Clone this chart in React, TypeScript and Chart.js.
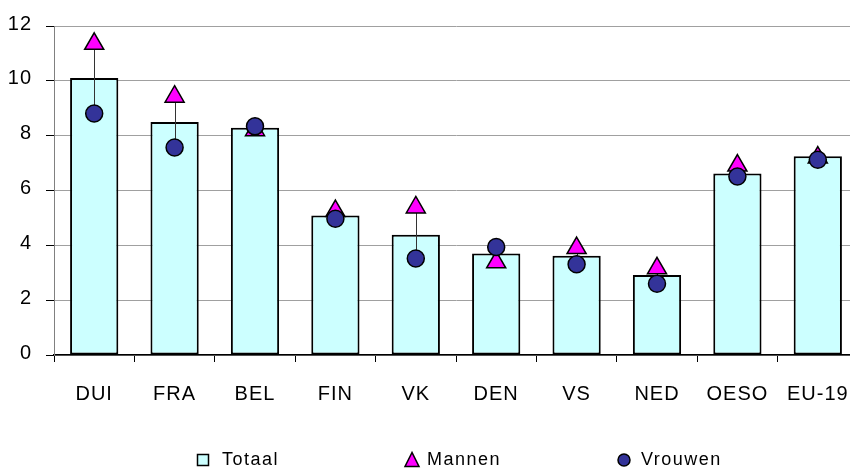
import React, { useEffect, useRef } from 'react';
import { Chart, registerables } from 'chart.js';

Chart.register(...registerables);

const categories = ['DUI', 'FRA', 'BEL', 'FIN', 'VK', 'DEN', 'VS', 'NED', 'OESO', 'EU-19'];
const totaal = [10.1, 8.5, 8.29, 5.09, 4.39, 3.7, 3.62, 2.92, 6.62, 7.25];
const mannen = [11.35, 9.42, 8.2, 5.25, 5.38, 3.38, 3.9, 3.16, 6.91, 7.2];
const vrouwen = [8.81, 7.57, 8.34, 4.97, 3.52, 3.94, 3.31, 2.6, 6.51, 7.12];
const yTicks = [0, 2, 4, 6, 8, 10, 12];
const seriesNames = ['Totaal', 'Mannen', 'Vrouwen'];

const FONT = '"Liberation Sans", Arial, sans-serif';
const BAR_FILL = '#CCFFFF';
const MAN_FILL = '#FF00FF';
const VROUW_FILL = '#333399';

const letterSpacingPlugin = {
  id: 'letterSpacing',
  beforeDraw(chart: any) {
    chart.ctx.letterSpacing = '1px';
  },
};

const hiLoPlugin = {
  id: 'hiLo',
  afterDatasetDraw(chart: any, args: any) {
    if (args.index !== 0) return;
    const { ctx, scales } = chart;
    const x = scales.x;
    const y = scales.y;
    ctx.save();
    ctx.strokeStyle = '#333333';
    ctx.lineWidth = 1;
    mannen.forEach((m, i) => {
      const px = Math.round(x.getPixelForValue(i)) + 0.5;
      ctx.beginPath();
      ctx.moveTo(px, y.getPixelForValue(m));
      ctx.lineTo(px, y.getPixelForValue(vrouwen[i]));
      ctx.stroke();
    });
    ctx.restore();
  },
};

const customLegendPlugin = {
  id: 'customLegend',
  afterDraw(chart: any) {
    const ctx = chart.ctx;
    ctx.save();
    ctx.letterSpacing = '1.5px';
    ctx.font = '18px ' + FONT;
    ctx.textBaseline = 'middle';
    ctx.textAlign = 'left';
    ctx.lineWidth = 1.5;
    ctx.strokeStyle = '#000';
    const cy = 460;
    // Totaal box
    ctx.fillStyle = BAR_FILL;
    ctx.fillRect(197.5, 454.5, 11, 11);
    ctx.strokeRect(197.5, 454.5, 11, 11);
    // Mannen triangle
    ctx.beginPath();
    ctx.moveTo(412, 452.5);
    ctx.lineTo(405, 466.5);
    ctx.lineTo(419, 466.5);
    ctx.closePath();
    ctx.fillStyle = MAN_FILL;
    ctx.fill();
    ctx.stroke();
    // Vrouwen circle
    ctx.beginPath();
    ctx.arc(624, cy, 6, 0, Math.PI * 2);
    ctx.fillStyle = VROUW_FILL;
    ctx.fill();
    ctx.stroke();
    ctx.fillStyle = '#000';
    ctx.fillText(seriesNames[0], 222, cy);
    ctx.fillText(seriesNames[1], 427, cy);
    ctx.fillText(seriesNames[2], 641, cy);
    ctx.restore();
  },
};

export default function App() {
  const canvasRef = useRef<HTMLCanvasElement | null>(null);

  useEffect(() => {
    if (!canvasRef.current) return;
    const chart = new Chart(canvasRef.current, {
      type: 'bar',
      data: {
        labels: categories,
        datasets: [
          {
            type: 'bar',
            label: seriesNames[0],
            data: totaal,
            backgroundColor: BAR_FILL,
            borderColor: '#000000',
            borderWidth: 2,
            borderSkipped: false,
            categoryPercentage: 1,
            barPercentage: 0.6,
            order: 2,
          },
          {
            type: 'line',
            label: seriesNames[1],
            data: mannen,
            showLine: false,
            pointStyle: 'triangle',
            pointRadius: 11,
            pointHoverRadius: 11,
            pointBackgroundColor: MAN_FILL,
            pointBorderColor: '#000000',
            pointBorderWidth: 1.5,
            clip: false,
            order: 1,
          },
          {
            type: 'line',
            label: seriesNames[2],
            data: vrouwen,
            showLine: false,
            pointStyle: 'circle',
            pointRadius: 8.5,
            pointHoverRadius: 8.5,
            pointBackgroundColor: VROUW_FILL,
            pointBorderColor: '#000000',
            pointBorderWidth: 1.5,
            clip: false,
            order: 0,
          },
        ] as any,
      },
      options: {
        responsive: false,
        animation: false,
        events: [],
        layout: { autoPadding: false, padding: { top: 25, right: 0, bottom: 0, left: 0 } },
        plugins: {
          legend: { display: false },
          tooltip: { enabled: false },
        },
        scales: {
          x: {
            offset: true,
            grid: {
              offset: true,
              drawOnChartArea: false,
              drawTicks: true,
              tickLength: 7,
              tickColor: '#000000',
            },
            border: { color: '#000000', width: 1.5 },
            ticks: {
              color: '#000000',
              font: { family: FONT, size: 20 },
              padding: 20,
              maxRotation: 0,
              autoSkip: false,
            },
            afterFit(scale: any) {
              scale.height = 113;
              scale.paddingLeft = 0;
              scale.paddingRight = 0;
            },
          },
          y: {
            min: 0,
            max: 12,
            afterBuildTicks(scale: any) {
              scale.ticks = yTicks.map((v) => ({ value: v }));
            },
            grid: {
              color: '#A0A0A0',
              lineWidth: 1,
              tickLength: 8,
              tickColor: '#000000',
            },
            border: { color: '#808080', width: 1 },
            ticks: {
              color: '#000000',
              font: { family: FONT, size: 20 },
              padding: 14,
              labelOffset: -2,
            },
            afterFit(scale: any) {
              scale.width = 54;
            },
          },
        },
      },
      plugins: [letterSpacingPlugin, hiLoPlugin, customLegendPlugin],
    } as any);
    return () => chart.destroy();
  }, []);

  return (
    <div
      style={{
        position: 'fixed',
        left: 0,
        top: 0,
        width: 850,
        height: 468,
        overflow: 'hidden',
        background: '#ffffff',
      }}
    >
      <canvas ref={canvasRef} width={858} height={468} style={{ width: 858, height: 468, display: 'block' }} />
    </div>
  );
}
